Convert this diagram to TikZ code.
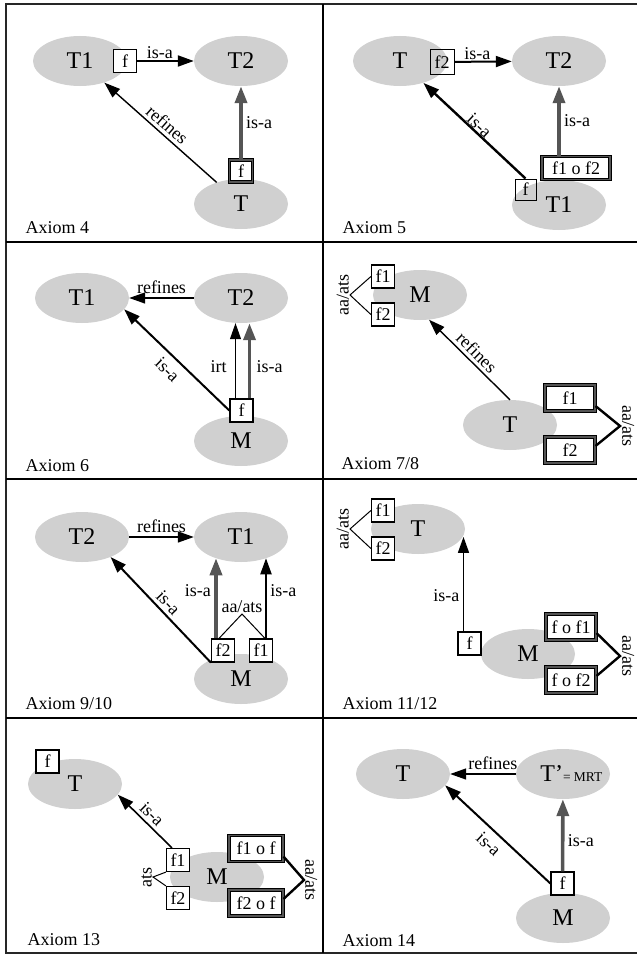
\documentclass[tikz,border=0pt]{standalone}
\usepackage{fontspec}
\setmainfont{Liberation Serif}
\usepackage{tikz}
\usetikzlibrary{arrows.meta, shapes.geometric}
\definecolor{ellgray}{RGB}{208,208,208}
\definecolor{arrgray}{RGB}{85,85,85}
\newcommand{\bigsz}{\fontsize{24}{26}\selectfont}
\newcommand{\lblsz}{\fontsize{18}{20}\selectfont}
\newcommand{\mrtsz}{\fontsize{13.5}{15}\selectfont}

\begin{document}
\begin{tikzpicture}[x=1pt, y=-1pt, font=\lblsz,
  concept/.style={ellipse, fill=ellgray, minimum width=94pt, minimum height=50pt, inner sep=0pt, font=\bigsz},
  fbox/.style={draw, line width=1.4pt, fill=white, minimum size=23pt, inner sep=1pt},
  obox/.style={draw, line width=1pt, minimum size=23pt, inner sep=1pt},
  dbox/.style={draw, line width=1pt, double=arrgray, double distance=1.6pt, fill=white, minimum width=50pt, minimum height=26pt, inner sep=3pt},
  isa/.style={-{Triangle[length=16pt,width=11pt]}, line width=2pt},
  isagray/.style={-{Triangle[length=17pt,width=12pt]}, draw=arrgray, line width=3.6pt},
  refines/.style={-{Triangle[length=16pt,width=11pt]}, line width=1.4pt},
  irt/.style={-{Triangle[length=16pt,width=11pt]}, line width=1pt},
  aaline/.style={line width=1pt},
  aathick/.style={line width=2.4pt},
  axiom/.style={anchor=base west}]
\useasboundingbox (0,0) rectangle (637,958);
\draw[line width=2pt, draw=black!85] (637,4) -- (6,4) -- (6,953) -- (637,953);
\draw[line width=2pt] (323,4) -- (323,953);
\foreach \yy in {242,479,718}
  \draw[line width=2pt] (6,\yy) -- (637,\yy);

% Axiom 4
\node[concept] (a4T1) at (80,61) {T1};
\node[concept] (a4T2) at (241,61) {T2};
\node[concept] (a4T) at (241,204) {T};
\node[fbox, line width=1.6pt] (a4fa) at (125,61) {f};
\node[dbox, minimum width=23pt, minimum height=22pt, inner sep=1pt] (a4fb) at (241,171) {f};
\draw[isa] (a4fa) -- node[above, pos=0.4, inner sep=1pt] {is-a} (a4T2);
\draw[isagray] (a4fb) -- node[right] {is-a} (a4T2);
\draw[refines] (a4T) -- node[sloped, above] {refines} (a4T1);
\node[axiom] (ax4) at (22,233) {Axiom 4};

% Axiom 5
\node[concept] (a5T) at (400,61) {T};
\node[concept] (a5T2) at (559,61) {T2};
\node[concept] (a5T1) at (559,205) {T1};
\node[obox, minimum size=24pt] (a5fb) at (442,62) {f2};
\node[obox, minimum size=21pt] (a5fa) at (525.5,189.5) {f};
\node[dbox, minimum width=68pt, minimum height=23pt] (a5fc) at (576,168) {f1 o f2};
\draw[isa] (a5fb) -- node[above, pos=0.4, inner sep=1pt] {is-a} (a5T2);
\draw[isagray] (a5fc.north -| a5T2) -- node[right] {is-a} (a5T2);
\draw[isa, line width=2.4pt] (a5fa.north) -- node[sloped, above, inner sep=0pt] {is-a} (a5T);
\node[axiom] (ax5) at (339,233) {Axiom 5};

% Axiom 6
\node[concept] (a6T1) at (82,298) {T1};
\node[concept] (a6T2) at (241,298) {T2};
\node[concept] (a6M) at (241,441) {M};
\node[fbox] (a6f) at (241.5,410.5) {f};
\draw[refines] (a6T2) -- node[above] {refines} (a6T1);
\draw[irt] ([xshift=-6pt]a6f.north) -- node[left=5pt, pos=0.42] {irt} ([xshift=-6pt]a6f.north |- a6T2.south);
\draw[isagray] ([xshift=8pt]a6f.north) -- node[right=2pt, pos=0.42] {is-a} ([xshift=8pt]a6f.north |- a6T2.south);
\draw[isa] (a6f.west) -- node[sloped, below=3pt] {is-a} (a6T1.-15);
\node[axiom] (ax6) at (22,471) {Axiom 6};

% Axiom 7/8
\node[concept] (a78M) at (420,295) {M};
\node[concept] (a78T) at (510,425) {T};
\node[fbox, line width=1.2pt] (a78fa) at (383,276.5) {f1};
\node[fbox, line width=1.2pt] (a78fb) at (383,314.5) {f2};
\node[dbox] (a78Fa) at (570,398) {f1};
\node[dbox] (a78Fb) at (570,450) {f2};
\coordinate (a78pl) at (350,295);
\coordinate (a78pr) at (620,426);
\draw[aaline] (a78fa.west) -- (a78pl) -- (a78fb.west);
\node[rotate=90, anchor=south, inner sep=1pt] (a78la) at (a78pl) {aa/ats};
\draw[aathick] ([yshift=-8pt]a78Fa.east) -- (a78pr) -- ([yshift=4pt]a78Fb.east);
\node[rotate=-90, anchor=south, inner sep=2pt] (a78lb) at (a78pr) {aa/ats};
\draw[refines] (a78T.north) -- node[sloped, above] {refines} (a78M.-70);
\node[axiom] (ax78) at (338,469) {Axiom 7/8};

% Axiom 9/10
\node[concept] (a9T2) at (82,537) {T2};
\node[concept] (a9T1) at (241,537) {T1};
\node[concept] (a9M) at (241,679) {M};
\node[fbox, line width=1.2pt] (a9fb) at (223,650.5) {f2};
\node[fbox, line width=1.2pt] (a9fa) at (261,650.5) {f1};
\draw[refines] (a9T2) -- node[above] {refines} (a9T1);
\draw[isagray] ([xshift=-7pt]a9fb.north) -- node[left, pos=0.6] {is-a} ([xshift=-7pt]a9fb.north |- a9T1.220);
\draw[isa] ([xshift=5pt]a9fa.north) -- node[right, pos=0.6] {is-a} ([xshift=5pt]a9fa.north |- a9T1.-40);
\coordinate (a9pk) at (242,614);
\draw[aaline] ([xshift=-4pt]a9fb.north) -- (a9pk) -- ([xshift=4pt]a9fa.north);
\node[above, inner sep=1pt] (a9la) at (a9pk) {aa/ats};
\draw[isa] (a9fb.south west) -- node[sloped, above] {is-a} (a9T2.-35);
\node[axiom] (ax9) at (22,709) {Axiom 9/10};

% Axiom 11/12
\node[concept] (a11T) at (418,529) {T};
\node[concept] (a11M) at (528,654) {M};
\node[fbox, line width=1.2pt] (a11fa) at (383,510.5) {f1};
\node[fbox, line width=1.2pt] (a11fb) at (383,548.5) {f2};
\node[fbox, line width=1.2pt] (a11f) at (469.5,643.5) {f};
\node[dbox] (a11Fa) at (571,627) {f o f1};
\node[dbox] (a11Fb) at (571,680) {f o f2};
\coordinate (a11pl) at (350,529);
\coordinate (a11pr) at (620,656);
\draw[aaline] (a11fa.west) -- (a11pl) -- (a11fb.west);
\node[rotate=90, anchor=south, inner sep=1pt] (a11la) at (a11pl) {aa/ats};
\draw[aathick] ([yshift=-6pt]a11Fa.east) -- (a11pr) -- ([yshift=4pt]a11Fb.east);
\node[rotate=-90, anchor=south, inner sep=2pt] (a11lb) at (a11pr) {aa/ats};
\draw[isa, line width=1.6pt] ([xshift=-6pt]a11f.north) -- node[left, pos=0.38] {is-a} ([xshift=-6pt]a11f.north |- a11T.-10);
\node[axiom] (ax11) at (339,709) {Axiom 11/12};

% Axiom 13
\node[concept] (a13T) at (75,784) {T};
\node[fbox, line width=2pt] (a13f) at (47.5,761.5) {f};
\node[concept] (a13M) at (217,877) {M};
\node[fbox, line width=1.2pt] (a13fa) at (178,860) {f1};
\node[fbox, line width=1.2pt] (a13fb) at (178,898) {f2};
\node[dbox, minimum width=54pt] (a13Fa) at (256,848.5) {f1 o f};
\node[dbox, minimum width=54pt] (a13Fb) at (256,903) {f2 o f};
\coordinate (a13pl) at (153,877);
\coordinate (a13pr) at (304,880);
\draw[aaline] (a13fa.south west) -- (a13pl) -- (a13fb.north west);
\node[rotate=90, anchor=south, inner sep=1pt] (a13la) at (a13pl) {ats};
\draw[aathick] ([yshift=-8pt]a13Fa.east) -- (a13pr) -- ([yshift=4pt]a13Fb.east);
\node[rotate=-90, anchor=south, inner sep=1pt] (a13lb) at (a13pr) {aa/ats};
\draw[isa, line width=1.6pt] ([xshift=-6pt]a13fa.north) -- node[sloped, above] {is-a} (a13T.-14);
\node[axiom] (ax13) at (24,945) {Axiom 13};

% Axiom 14
\node[concept] (a14T) at (403,774) {T};
\node[concept] (a14Tp) at (563,774) {\makebox[0pt][r]{T’}\makebox[0pt][l]{\mrtsz= MRT}};
\node[concept] (a14M) at (563,918) {M};
\node[fbox, line width=1.2pt] (a14f) at (562.5,883.5) {f};
\draw[refines] (a14Tp) -- node[above, pos=0.35] {refines} (a14T);
\draw[isagray] (a14f) -- node[right, pos=0.42] {is-a} (a14Tp);
\draw[isa] (a14f.west) -- node[sloped, below=3pt] {is-a} (a14T.-15);
\node[axiom] (ax14) at (339,946) {Axiom 14};
\end{tikzpicture}
\end{document}
